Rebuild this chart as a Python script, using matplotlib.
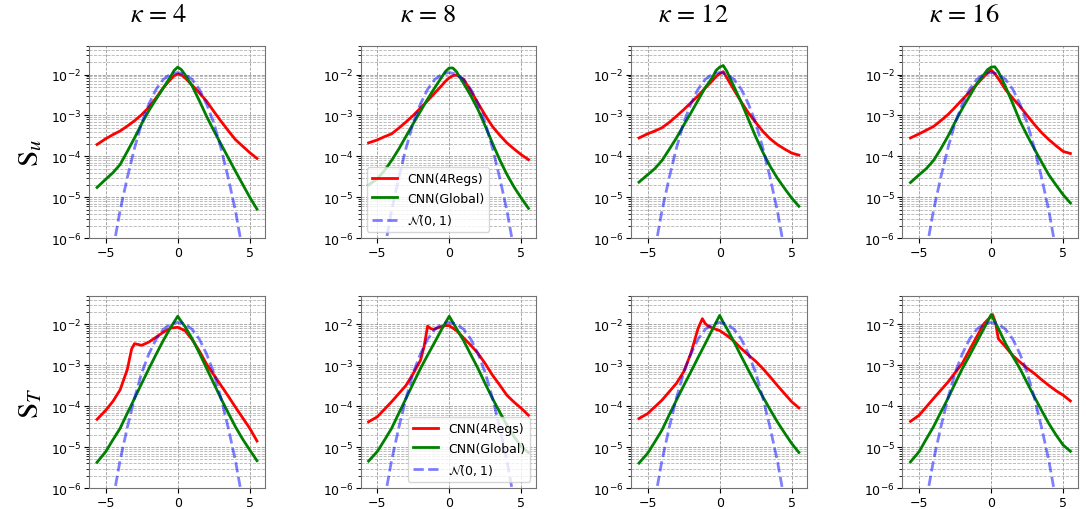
import matplotlib
matplotlib.use('Agg')
import matplotlib.pyplot as plt
import numpy as np

kappas = [4, 8, 12, 16]
row_labels = [r'$\mathrm{S}_u$', r'$\mathrm{S}_T$']

# shared x positions (log10 of the density is stored below)
x = [-5.6, -5, -4.5, -4, -3.5, -3, -2.5, -2, -1.5, -1, -0.5, -0.25, 0,
     0.25, 0.5, 1, 1.5, 2, 2.5, 3, 3.5, 4, 4.5, 5, 5.5]

# N(0,1) reference
gauss_x = [-4.5, -4, -3.5, -3, -2.5, -2, -1.5, -1, -0.5, 0,
           0.5, 1, 1.5, 2, 2.5, 3, 3.5, 4, 4.5]
gauss_y = [-6.30, -5.32, -4.52, -3.80, -3.18, -2.72, -2.36, -2.12, -1.99, -1.95,
           -1.99, -2.12, -2.36, -2.72, -3.18, -3.80, -4.52, -5.32, -6.30]

# S_u row
su_red = [
    [-3.71, -3.57, -3.47, -3.38, -3.26, -3.13, -2.98, -2.80, -2.57, -2.32, -2.12, -2.03, -1.99,
     -2.01, -2.08, -2.26, -2.45, -2.65, -2.90, -3.14, -3.37, -3.59, -3.75, -3.91, -4.05],
    [-3.67, -3.60, -3.52, -3.45, -3.31, -3.16, -3.00, -2.82, -2.64, -2.45, -2.26, -2.16, -2.08,
     -2.03, -2.01, -2.12, -2.40, -2.70, -3.00, -3.27, -3.48, -3.67, -3.82, -3.96, -4.08],
    [-3.55, -3.45, -3.38, -3.30, -3.17, -3.02, -2.86, -2.69, -2.52, -2.33, -2.15, -2.05, -1.98,
     -1.93, -2.08, -2.38, -2.67, -2.94, -3.17, -3.39, -3.57, -3.71, -3.82, -3.92, -3.97],
    [-3.55, -3.45, -3.36, -3.27, -3.13, -2.98, -2.80, -2.61, -2.43, -2.24, -2.05, -1.96, -1.89,
     -1.98, -2.10, -2.37, -2.58, -2.78, -3.00, -3.22, -3.42, -3.59, -3.74, -3.88, -3.93],
]
su_green = [
    [-4.76, -4.56, -4.40, -4.20, -3.88, -3.55, -3.20, -2.88, -2.60, -2.33, -2.05, -1.90, -1.82,
     -1.88, -2.00, -2.28, -2.64, -3.02, -3.37, -3.70, -4.03, -4.36, -4.68, -5.00, -5.29],
    [-4.70, -4.55, -4.35, -4.10, -3.82, -3.51, -3.20, -2.90, -2.60, -2.32, -2.05, -1.92, -1.84,
     -1.84, -1.93, -2.22, -2.52, -2.86, -3.26, -3.68, -4.08, -4.44, -4.75, -5.02, -5.27],
    [-4.63, -4.45, -4.30, -4.10, -3.83, -3.55, -3.24, -2.94, -2.63, -2.32, -2.07, -1.90, -1.82,
     -1.78, -1.92, -2.30, -2.68, -3.10, -3.52, -3.90, -4.24, -4.53, -4.78, -5.02, -5.22],
    [-4.64, -4.45, -4.30, -4.10, -3.82, -3.51, -3.16, -2.83, -2.53, -2.23, -2.00, -1.88, -1.82,
     -1.81, -1.93, -2.30, -2.71, -3.14, -3.49, -3.82, -4.14, -4.45, -4.70, -4.94, -5.14],
]

# S_T row
st_green = [
    [-5.37, -5.11, -4.82, -4.54, -4.17, -3.81, -3.44, -3.08, -2.73, -2.39, -2.08, -1.94, -1.80,
     -1.93, -2.05, -2.35, -2.70, -3.07, -3.44, -3.81, -4.16, -4.50, -4.80, -5.07, -5.33],
    [-5.34, -5.11, -4.83, -4.54, -4.17, -3.81, -3.44, -3.08, -2.75, -2.43, -2.10, -1.95, -1.80,
     -1.95, -2.10, -2.40, -2.74, -3.08, -3.45, -3.81, -4.14, -4.46, -4.74, -4.99, -5.13],
    [-5.39, -5.15, -4.87, -4.58, -4.21, -3.85, -3.50, -3.16, -2.81, -2.47, -2.12, -1.95, -1.78,
     -1.95, -2.10, -2.43, -2.78, -3.12, -3.45, -3.77, -4.08, -4.38, -4.65, -4.91, -5.13],
    [-5.36, -5.11, -4.80, -4.50, -4.15, -3.81, -3.44, -3.08, -2.76, -2.43, -2.10, -1.93, -1.76,
     -1.93, -2.10, -2.47, -2.78, -3.08, -3.43, -3.77, -4.10, -4.42, -4.70, -4.95, -5.10],
]
st_red_x = [
    [-5.6, -5, -4.5, -4, -3.5, -3.2, -3, -2.75, -2.5, -2, -1.5, -1, -0.5, 0,
     0.5, 1, 1.5, 2, 2.5, 3, 3.5, 4, 4.5, 5, 5.5],
    [-5.6, -5, -4, -3, -2.5, -2, -1.75, -1.5, -1.3, -1.1, -0.75, -0.5, -0.25, 0,
     0.5, 1, 1.5, 2, 2.5, 3, 3.5, 4, 4.5, 5, 5.5],
    [-5.6, -5, -4, -3, -2.5, -2, -1.5, -1.2, -1, -0.8, -0.5, 0,
     0.5, 1, 1.5, 2, 2.5, 3, 3.5, 4, 4.5, 5, 5.5],
    [-5.6, -5, -4, -3, -2, -1, -0.5, 0, 0.1, 0.3, 0.5,
     1, 1.5, 2, 2.5, 3, 3.5, 4, 4.5, 5, 5.5],
]
st_red_y = [
    [-4.32, -4.10, -3.88, -3.60, -3.10, -2.60, -2.47, -2.49, -2.51, -2.43, -2.31, -2.19, -2.09, -2.07,
     -2.15, -2.37, -2.65, -2.97, -3.23, -3.49, -3.75, -4.02, -4.28, -4.54, -4.85],
    [-4.38, -4.26, -3.89, -3.49, -3.20, -2.88, -2.55, -2.04, -2.10, -2.12, -2.08, -2.05, -2.03, -2.03,
     -2.15, -2.33, -2.51, -2.71, -2.96, -3.24, -3.48, -3.73, -3.90, -4.05, -4.22],
    [-4.30, -4.18, -3.85, -3.44, -3.16, -2.71, -2.10, -1.86, -1.98, -2.04, -2.09, -2.15,
     -2.27, -2.41, -2.59, -2.75, -2.90, -3.08, -3.28, -3.49, -3.69, -3.89, -4.04],
    [-4.37, -4.22, -3.81, -3.41, -2.95, -2.30, -1.98, -1.80, -1.76, -1.95, -2.35,
     -2.55, -2.76, -2.92, -3.07, -3.20, -3.35, -3.49, -3.62, -3.73, -3.87],
]

fig = plt.figure(figsize=(10.86, 5.1), dpi=100)

lefts = [0.082, 0.332, 0.581, 0.831]
bottoms = [0.531, 0.041]
w, h = 0.162, 0.377

for r in range(2):
    for c in range(4):
        ax = fig.add_axes([lefts[c], bottoms[r], w, h])
        if r == 0:
            rx, ry = x, su_red[c]
            gy = su_green[c]
        else:
            rx, ry = st_red_x[c], st_red_y[c]
            gy = st_green[c]
        ax.plot(rx, 10 ** np.array(ry), color='r', lw=2, label='CNN(4Regs)')
        ax.plot(x, 10 ** np.array(gy), color='g', lw=2, label='CNN(Global)')
        ax.plot(gauss_x, 10 ** np.array(gauss_y), color='b', alpha=0.5, ls='--', lw=2,
                label=r'$\mathcal{N}(0,1)$')
        ax.set_yscale('log')
        ax.set_ylim(1e-6, 5e-2)
        ax.set_xticks([-5, 0, 5])
        ax.grid(True, which='major', ls='--', lw=0.6, color='0.6')
        ax.grid(True, which='minor', axis='y', ls='--', lw=0.6, color='0.7')
        ax.tick_params(labelsize=9, pad=2)
        for s in ax.spines.values():
            s.set_color('0.45')
        if c == 1:
            ax.legend(loc='lower left' if r == 0 else 'lower right', fontsize=9)

title_x = [159, 428, 693, 964]
for c in range(4):
    fig.text(title_x[c] / 1086, 1 - 16 / 510, r'$\kappa$ = %d' % kappas[c],
             ha='center', va='center', fontsize=19, family='STIXGeneral',
             math_fontfamily='stix')

fig.text(30 / 1086, 1 - 153 / 510, row_labels[0], rotation=90, ha='center', va='center',
         fontsize=21, math_fontfamily='stix')
fig.text(30 / 1086, 1 - 403 / 510, row_labels[1], rotation=90, ha='center', va='center',
         fontsize=21, math_fontfamily='stix')

plt.savefig('out.png', dpi=100)
